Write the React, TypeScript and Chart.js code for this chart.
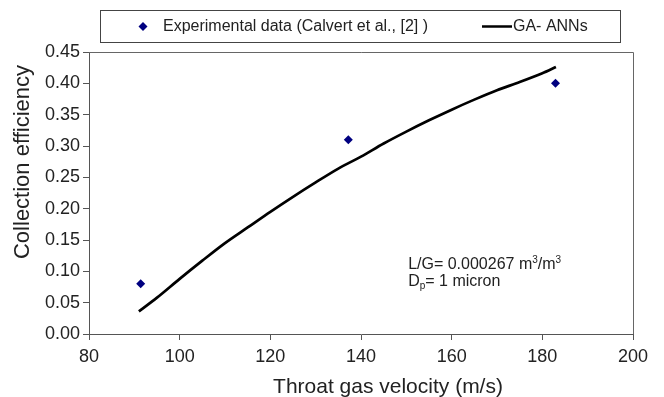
import React, { useEffect, useRef } from "react";
import { Chart, registerables } from "chart.js";

Chart.register(...registerables);

const expVelocity = [91.4, 137.2, 182.9];
const expEfficiency = [0.08, 0.31, 0.4];

const annVelocity = [91, 95, 100, 105, 110, 115, 120, 125, 130, 135, 140, 145, 150, 155, 160, 165, 170, 175, 180, 183];
const annEfficiency = [0.036, 0.058, 0.088, 0.117, 0.145, 0.17, 0.195, 0.219, 0.242, 0.264, 0.283, 0.304, 0.323, 0.341, 0.358, 0.374, 0.389, 0.402, 0.416, 0.426];

const expLabel = "Experimental data (Calvert et al., [2] )";
const annLabel = "GA- ANNs";
const xTitle = "Throat gas velocity (m/s)";
const yTitle = "Collection efficiency";

const FONT = "'Liberation Sans', Arial, sans-serif";

const overlay = {
  id: "overlay",
  afterDraw(chart: any) {
    const { ctx, chartArea, scales } = chart;
    ctx.save();
    // plot frame (top/right)
    ctx.strokeStyle = "#666";
    ctx.lineWidth = 1;
    ctx.beginPath();
    ctx.moveTo(chartArea.left, chartArea.top + 0.5);
    ctx.lineTo(chartArea.right + 0.5, chartArea.top + 0.5);
    ctx.lineTo(chartArea.right + 0.5, chartArea.bottom);
    ctx.stroke();

    // axis titles
    ctx.fillStyle = "#222";
    ctx.font = `21px ${FONT}`;
    ctx.textAlign = "center";
    ctx.textBaseline = "middle";
    ctx.fillText(xTitle, 388, 387);
    ctx.save();
    ctx.translate(23, 162);
    ctx.rotate(-Math.PI / 2);
    ctx.font = `22px ${FONT}`;
    ctx.fillText(yTitle, 0, 0);
    ctx.restore();

    // legend box
    const lx = 100, ly = 10, lw = 520, lh = 32;
    ctx.strokeStyle = "#444";
    ctx.lineWidth = 1;
    ctx.strokeRect(lx + 0.5, ly + 0.5, lw, lh);
    const cy = ly + lh / 2 + 0.5;
    // diamond
    ctx.fillStyle = "#000080";
    ctx.beginPath();
    const dx = 143, r = 4.5;
    ctx.moveTo(dx, cy - r);
    ctx.lineTo(dx + r, cy);
    ctx.lineTo(dx, cy + r);
    ctx.lineTo(dx - r, cy);
    ctx.closePath();
    ctx.fill();
    ctx.fillStyle = "#222";
    ctx.font = `16px ${FONT}`;
    ctx.textBaseline = "middle";
    ctx.textAlign = "left";
    ctx.fillText(expLabel, 163, cy);
    // line sample
    ctx.strokeStyle = "#000";
    ctx.lineWidth = 2.5;
    ctx.beginPath();
    ctx.moveTo(482, cy);
    ctx.lineTo(512, cy);
    ctx.stroke();
    ctx.fillText(annLabel, 513, cy);

    // annotation
    const ax = scales.x.getPixelForValue(150.4);
    const ay1 = scales.y.getPixelForValue(0.1045);
    const ay2 = scales.y.getPixelForValue(0.0758);
    ctx.fillStyle = "#222";
    ctx.textBaseline = "alphabetic";
    let x = ax;
    const t1 = "L/G= 0.000267 m";
    ctx.font = `16px ${FONT}`;
    ctx.fillText(t1, x, ay1);
    x += ctx.measureText(t1).width;
    ctx.font = `10px ${FONT}`;
    ctx.fillText("3", x, ay1 - 6);
    x += ctx.measureText("3").width;
    ctx.font = `16px ${FONT}`;
    ctx.fillText("/m", x, ay1);
    x += ctx.measureText("/m").width;
    ctx.font = `10px ${FONT}`;
    ctx.fillText("3", x, ay1 - 6);

    x = ax;
    ctx.font = `16px ${FONT}`;
    ctx.fillText("D", x, ay2);
    x += ctx.measureText("D").width;
    ctx.font = `10px ${FONT}`;
    ctx.fillText("p", x, ay2 + 3);
    x += ctx.measureText("p").width;
    ctx.font = `16px ${FONT}`;
    ctx.fillText("= 1 micron", x, ay2);
    ctx.restore();
  },
};

export default function App() {
  const ref = useRef<HTMLCanvasElement | null>(null);
  useEffect(() => {
    const canvas = ref.current;
    if (!canvas) return;
    const chart = new Chart(canvas, {
      type: "scatter",
      data: {
        datasets: [
          {
            label: expLabel,
            data: expVelocity.map((v, i) => ({ x: v, y: expEfficiency[i] })),
            pointStyle: "rectRot",
            pointRadius: 4.5,
            backgroundColor: "#000080",
            borderColor: "#000080",
            borderWidth: 0,
            showLine: false,
          },
          {
            label: annLabel,
            data: annVelocity.map((v, i) => ({ x: v, y: annEfficiency[i] })),
            showLine: true,
            borderColor: "#000",
            borderWidth: 2.7,
            pointRadius: 0,
            tension: 0.3,
            fill: false,
          },
        ],
      },
      options: {
        responsive: false,
        animation: false,
        layout: { padding: { left: 0, top: 52, right: 31, bottom: 0 } },
        plugins: { legend: { display: false }, tooltip: { enabled: false } },
        scales: {
          x: {
            type: "linear",
            min: 80,
            max: 200,
            ticks: { stepSize: 20, color: "#222", font: { family: FONT, size: 18 }, padding: 6 },
            grid: { drawOnChartArea: false, tickLength: 6, color: "#555" },
            border: { color: "#555", width: 1 },
            title: { display: false, text: xTitle },
            afterFit(scale: any) {
              scale.height = 63;
            },
          },
          y: {
            type: "linear",
            min: 0,
            max: 0.45,
            ticks: {
              stepSize: 0.05,
              color: "#222",
              font: { family: FONT, size: 18 },
              padding: 3,
              callback: (v: any) => Number(v).toFixed(2),
            },
            grid: { drawOnChartArea: false, tickLength: 6, color: "#555" },
            border: { color: "#555", width: 1 },
            title: { display: false, text: yTitle },
            afterFit(scale: any) {
              scale.width = 89;
            },
          },
        },
      },
      plugins: [overlay],
    });
    return () => chart.destroy();
  }, []);
  return (
    <div style={{ position: "fixed", left: 0, top: 0, width: 664, height: 397, background: "#fff" }}>
      <canvas ref={ref} width={664} height={397} />
    </div>
  );
}
